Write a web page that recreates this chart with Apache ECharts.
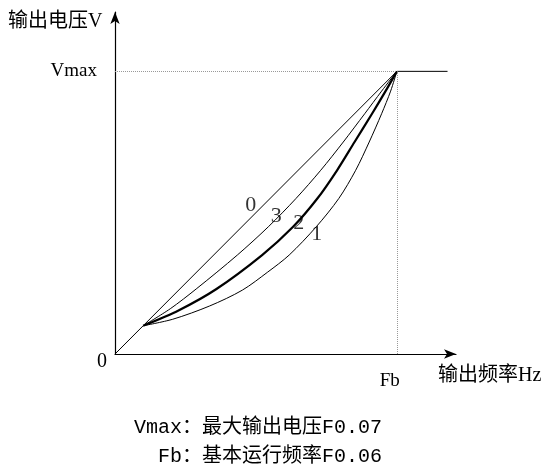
<!DOCTYPE html>
<html>
<head>
<meta charset="utf-8">
<script src="https://cdn.jsdelivr.net/npm/echarts@6/dist/echarts.min.js"></script>
<style>
  html, body { margin: 0; padding: 0; background: #fff; }
  #chart { width: 549px; height: 472px; }
</style>
</head>
<body>
<div id="chart"></div>
<script>
// x: output frequency (Fb = 50), y: output voltage (Vmax = 100)
const FB = 50;
const VMAX = 100;

const line0 = [[0, 0], [5, 10], [50, 100], [59, 100]];
const curve3 = [[5, 10], [9.8, 16], [14.4, 23], [21.7, 35], [27.2, 45], [32.1, 55], [36.5, 65], [40.5, 75], [44.3, 85], [47.3, 93], [50, 100]];
const curve2 = [[5, 10], [11.35, 15.5], [18, 23], [26.1, 35], [31.6, 45], [35.9, 55], [39.4, 65], [42.5, 75], [45.6, 85], [48, 93], [50, 100]];
const curve1 = [[5, 10], [10.25, 12.3], [16.8, 17], [22.6, 22.6], [27.1, 29], [30.9, 35], [35.7, 45], [39.7, 55], [42.7, 65], [45.1, 75], [47.3, 85], [48.9, 93], [50, 100]];

const curveLabels = [
  { name: '0', value: [24.1, 52.7] },
  { name: '3', value: [28.6, 48.6] },
  { name: '2', value: [32.6, 46.2] },
  { name: '1', value: [35.8, 42.4] },
];

const serif = "'Liberation Serif', 'Noto Sans CJK SC'";
const mono = "'Liberation Mono', 'Noto Sans CJK SC'";

const chart = echarts.init(document.getElementById('chart'));

const option = {
  animation: false,
  grid: { left: 115, top: 12, width: 341, height: 342 },
  xAxis: {
    type: 'value',
    min: 0,
    max: 60.5,
    interval: 50,
    splitLine: { show: false },
    axisTick: { show: false },
    axisLine: {
      onZero: false,
      symbol: ['none', 'arrow'],
      symbolSize: [7, 12],
      lineStyle: { color: '#000', width: 1.2 },
    },
    axisLabel: {
      margin: 18,
      color: '#000',
      fontFamily: serif,
      fontSize: 19,
      padding: [0, 14, 0, 0],
      formatter: v => (v === FB ? 'Fb' : ''),
    },
  },
  yAxis: {
    type: 'value',
    min: 0,
    max: 121,
    interval: 100,
    splitLine: { show: false },
    axisTick: { show: false },
    axisLine: {
      onZero: false,
      symbol: ['none', 'arrow'],
      symbolSize: [7, 12],
      lineStyle: { color: '#000', width: 1.2 },
    },
    axisLabel: {
      margin: 18,
      color: '#000',
      fontFamily: serif,
      fontSize: 19,
      padding: [12, 0, 0, 0],
      formatter: v => (v === VMAX ? 'Vmax' : ''),
    },
  },
  graphic: [
    { type: 'text', left: 8, top: 12, style: { text: '输出电压V', font: '20px ' + serif, fill: '#000' } },
    { type: 'text', left: 438, top: 366, style: { text: '输出频率Hz', font: '20px ' + serif, fill: '#000' } },
    { type: 'text', left: 97, top: 352, style: { text: '0', font: '20px ' + serif, fill: '#000' } },
    { type: 'text', right: 549 - 382, top: 418, style: { text: 'Vmax：最大输出电压F0.07', font: '20px ' + mono, fill: '#000', textAlign: 'right' } },
    { type: 'text', right: 549 - 382, top: 447, style: { text: 'Fb：基本运行频率F0.06', font: '20px ' + mono, fill: '#000', textAlign: 'right' } },
  ],
  series: [
    {
      name: '0',
      type: 'line',
      data: line0,
      symbol: 'none',
      lineStyle: { color: '#000', width: 1 },
      markLine: {
        silent: true,
        symbol: 'none',
        label: { show: false },
        lineStyle: { color: '#999', type: 'dotted', width: 1 },
        data: [
          [{ coord: [0, VMAX] }, { coord: [FB, VMAX] }],
          [{ coord: [FB, 0] }, { coord: [FB, VMAX] }],
        ],
      },
    },
    { name: '3', type: 'line', data: curve3, symbol: 'none', smooth: 0.3, lineStyle: { color: '#000', width: 1 } },
    { name: '2', type: 'line', data: curve2, symbol: 'none', smooth: 0.3, lineStyle: { color: '#000', width: 2.2 } },
    { name: '1', type: 'line', data: curve1, symbol: 'none', smooth: 0.3, lineStyle: { color: '#000', width: 1 } },
    {
      type: 'scatter',
      data: curveLabels,
      symbolSize: 0,
      label: {
        show: true,
        position: 'inside',
        formatter: p => p.name,
        color: '#000',
        fontFamily: serif,
        fontSize: 22,
      },
    },
  ],
};

chart.setOption(option);
</script>
</body>
</html>
